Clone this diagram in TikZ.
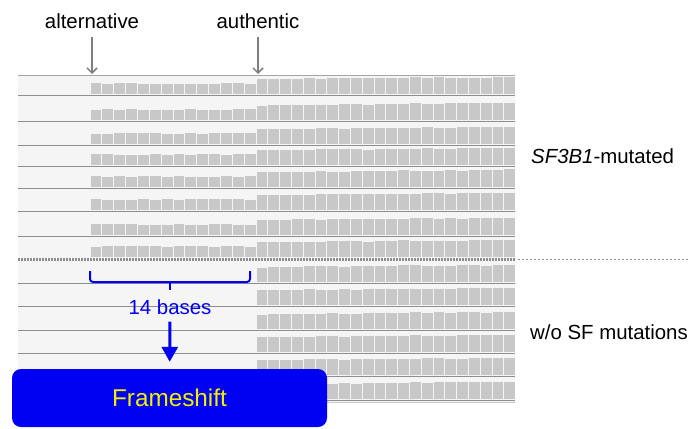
\documentclass[tikz,border=0pt]{standalone}
\usepackage{fontspec}
\setmainfont{Liberation Sans}
\usetikzlibrary{arrows.meta}
\definecolor{bar}{HTML}{C8C8C8}
\definecolor{rowbg}{HTML}{F5F5F5}
\definecolor{sepdark}{HTML}{8E8E8E}
\definecolor{seplight}{HTML}{C6C6C6}
\definecolor{arrgray}{HTML}{7F7F7F}
\definecolor{fsblue}{HTML}{0000F2}
\definecolor{fsyellow}{HTML}{F0F000}
\begin{document}
\begin{tikzpicture}[x=1pt,y=-1pt,
  lbl/.style={font=\fontsize{20.4}{24}\selectfont, inner sep=0pt},
  graybar/.style={fill=bar},
  rowfill/.style={fill=rowbg},
  sepd/.style={draw=sepdark, line width=1.3pt},
  sepl/.style={draw=seplight, line width=0.9pt},
  grayarrow/.style={draw=arrgray, line width=1.5pt, -{Straight Barb[length=5pt,width=10pt]}},
  bluearrow/.style={draw=fsblue, line width=3pt, -{Triangle[width=16pt,length=15pt]}},
  bluebrace/.style={draw=fsblue, line width=2pt}
]
\useasboundingbox (0,0) rectangle (690,428);
\fill[white] (0,0) rectangle (690,428);
\pgfmathsetseed{17}
% rows: top/bottom/mutated flag
\foreach \t/\b/\s in {75/97/1, 97/123/1, 123/147/1, 147/168/1, 168/190/1, 190/213/1, 213/238/1, 238/260/1,
                      260/285/0, 285/308/0, 308/332/0, 332/355/0, 355/378/0, 378/402/0} {
  \fill[rowfill] (18,\t) rectangle (515,\b);
  \ifnum\s=1
    \foreach \i in {0,...,13} {
      \pgfmathsetmacro\h{10+1.6*rnd}
      \fill[graybar] ({90+\i*11.857+0.5},\b-2.6) rectangle ++(10.9,-\h);
    }
  \fi
  \foreach \i in {0,...,21} {
    \pgfmathsetmacro\h{14.8+2.2*\i/21+1.0*rnd}
    \pgfmathsetmacro\w{min(10.8,515-(256+\i*11.8+0.5))}
    \fill[graybar] ({256+\i*11.8+0.5},\b-2.6) rectangle ++(\w,-\h);
  }
  \ifnum\b=260\else
    \draw[sepd] (18,\b-1.3) -- (515,\b-1.3);
    \draw[sepl] (18,\b+0.8) -- (515,\b+0.8);
  \fi
}
\draw[draw=sepdark!80, line width=1pt] (18,75) -- (515,75);
% dotted group divider
\draw[draw=sepdark, line width=2.4pt, dash pattern=on 2pt off 1pt] (18,259.5) -- (515,259.5);
\draw[draw=arrgray!85, line width=1.6pt, dash pattern=on 1.6pt off 2.4pt] (518,259.5) -- (690,259.5);

% top labels and arrows
\node[lbl] (alt) at (92,21.5) {alternative};
\node[lbl] (auth) at (258,21.5) {authentic};
\coordinate (altTip) at (92,74);
\coordinate (authTip) at (258,74);
\draw[grayarrow, shorten <=8pt] (alt) -- (altTip);
\draw[grayarrow, shorten <=8pt] (auth) -- (authTip);

% side labels
\node[lbl, anchor=west] (mut) at (531,156) {\textit{SF3B1}-mutated};
\node[lbl, anchor=west] (wo) at (530,332) {w/o SF mutations};

% brace
\coordinate (bl) at (90,271);
\coordinate (br) at (250,271);
\coordinate (bm) at (170,282);
\coordinate (bt) at (170,290);
\draw[bluebrace, rounded corners=3pt] (bl) -- (bl |- bm) -- (br |- bm) -- (br);
\draw[bluebrace] (bm) -- (bt);

\node[lbl, text=fsblue] (bases) at (170,307) {14 bases};
\node[fill=fsblue, rounded corners=9pt, minimum width=315pt, minimum height=58pt, inner sep=0pt,
      text=fsyellow, font=\fontsize{24.3}{28}\selectfont] (fs) at (169.5,398) {Frameshift};
\draw[bluearrow, shorten <=7pt, shorten >=7pt] (bases) -- (fs);
\end{tikzpicture}
\end{document}
